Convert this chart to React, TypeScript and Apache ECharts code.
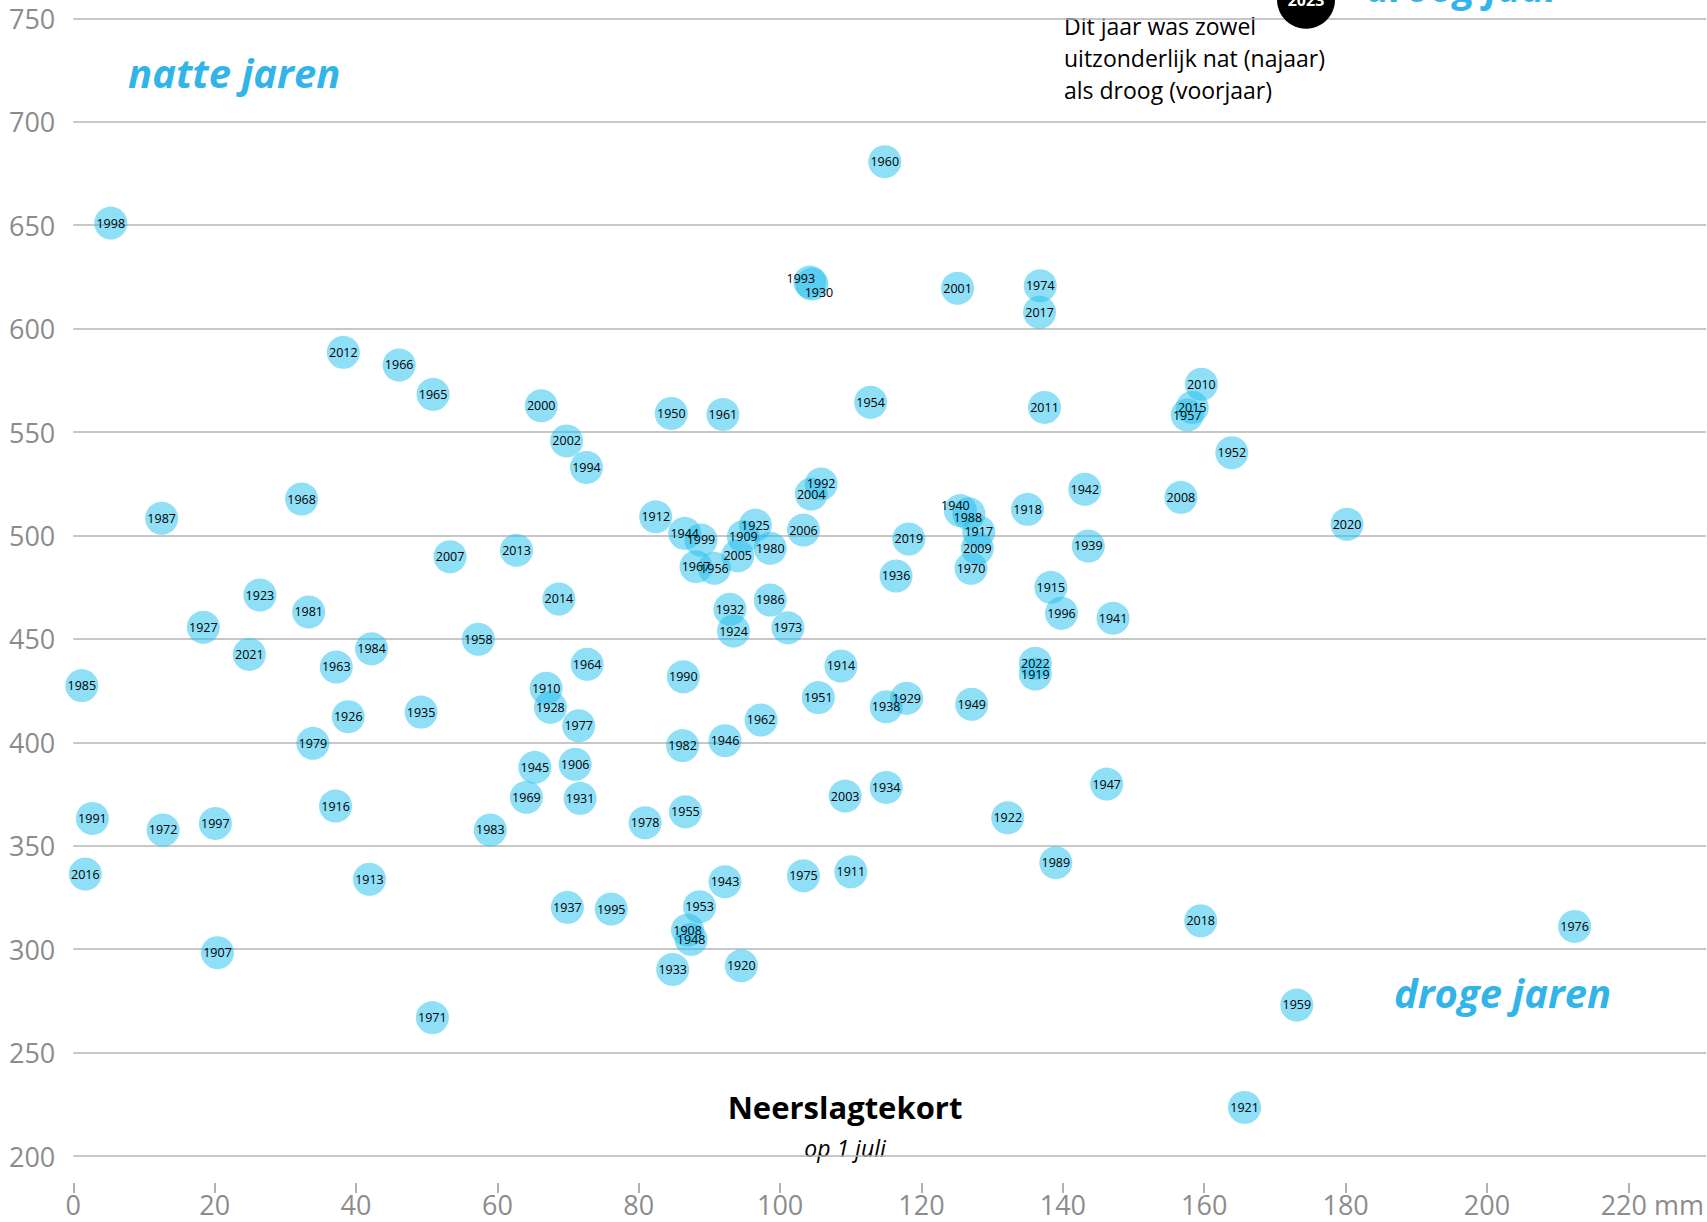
import React, { useEffect, useRef } from "react";
import * as echarts from "echarts";

// Neerslagtekort op 1 juli (mm) vs jaarlijkse neerslag (mm), per jaar
const years = [
  1998, 2012, 1966, 1965, 2000, 1950, 1961, 1993, 1930, 1960, 2001, 1974, 2017, 1954, 2011, 2010,
  2015, 1957, 1952, 1942, 2008, 1918, 1940, 1988, 1917, 2009, 1970, 2019, 1936, 1939, 1915, 1996,
  1941, 2022, 1919, 1929, 1938, 1949, 1914, 1934, 1947, 2003, 1922, 1989, 2018, 1921, 1911, 1976,
  1959, 2020, 1968, 1987, 1923, 1981, 1927, 2021, 1984, 1963, 1985, 1926, 1935, 1979, 1916, 2007,
  2013, 2014, 1958, 1964, 1910, 1928, 1977, 1945, 1906, 1969, 1931, 2002, 1994, 1912, 1944, 1999,
  1967, 1956, 2005, 1909, 1925, 1980, 2006, 1992, 2004, 1986, 1932, 1924, 1973, 1990, 1951, 1962,
  1946, 1982, 1955, 1978, 1983, 1943, 1975, 1937, 1995, 1953, 1908, 1948, 1933, 1920, 1971, 1991,
  1972, 1997, 2016, 1913, 1907,
];
const deficit = [
  5.3, 38.2, 46.1, 50.9, 66.2, 84.6, 91.9, 104.2, 104.5, 114.8, 125.1, 136.8, 136.7, 112.8, 137.4, 159.6,
  158.3, 157.6, 163.9, 143.1, 156.7, 135.0, 125.5, 126.7, 128.1, 127.9, 127.0, 118.2, 116.4, 143.6, 138.3, 139.8,
  147.1, 136.1, 136.1, 117.9, 115.0, 127.1, 108.6, 115.0, 146.2, 109.2, 132.2, 139.0, 159.5, 165.7, 110.0, 212.4,
  173.1, 180.2, 32.3, 12.5, 26.4, 33.3, 18.4, 24.9, 42.2, 37.2, 1.2, 38.9, 49.2, 33.9, 37.1, 53.3,
  62.7, 68.7, 57.3, 72.7, 66.9, 67.5, 71.5, 65.3, 71.0, 64.1, 71.7, 69.8, 72.6, 82.4, 86.5, 88.8,
  88.1, 90.7, 94.0, 94.8, 96.5, 98.6, 103.3, 105.8, 104.4, 98.6, 92.9, 93.4, 101.1, 86.3, 105.4, 97.3,
  92.2, 86.2, 86.6, 80.9, 59.0, 92.2, 103.3, 69.9, 76.1, 88.6, 86.9, 87.4, 84.8, 94.5, 50.8, 2.7,
  12.7, 20.1, 1.7, 41.9, 20.4,
];
const precipitation = [
  651, 588.5, 582.4, 568.2, 562.7, 559, 558.5, 622.5, 621.5, 680.7, 619.5, 620.7, 607.9, 564.4, 561.9, 573.1,
  561.9, 558.2, 540, 522.3, 518.4, 512.6, 512, 510.5, 501.8, 493.8, 484.1, 498.3, 480.4, 494.9, 474.9, 462.4,
  460, 438.2, 433, 421.3, 417.2, 418.4, 436.9, 378.2, 379.8, 374, 363.5, 341.8, 313.7, 223.5, 337.4, 311,
  273, 505.4, 517.6, 508.3, 471.2, 463, 455.6, 442.5, 445.2, 436.4, 427.4, 412.4, 414.6, 399.5, 369.2, 489.7,
  492.8, 469.3, 449.8, 437.7, 426.1, 416.9, 408, 387.9, 389.4, 373.4, 372.9, 545.7, 532.9, 509, 501, 497.8,
  484.9, 484.1, 490.2, 499.4, 505, 493.8, 502.6, 524.9, 520, 468.8, 464.3, 453.8, 455.4, 431.7, 421.6, 410.8,
  400.8, 398.4, 366.4, 361.1, 357.6, 332.6, 335.5, 320.2, 319.4, 320.5, 309.2, 304.7, 290.2, 292, 266.9, 363.2,
  357.6, 360.8, 336.3, 333.8, 298.3,
];

// Het jaar 2023 (buiten de bovenrand)
const highlightYear = 2023;
const highlightDeficit = 174.4;
const highlightPrecipitation = 759;

const xTicks = [0, 20, 40, 60, 80, 100, 120, 140, 160, 180, 200, 220];
const yMin = 200;
const yMax = 750;
const yStep = 50;

const labelShift: Record<number, [number, number]> = {
  1993: [-9, -4],
  1930: [7, 8],
  1940: [-5, -5],
  1988: [-1, 4],
};

const BLUE_TEXT = "#33b4e8";
const FONT = "'Open Sans', 'Noto Sans', sans-serif";

export default function App() {
  const ref = useRef<HTMLDivElement>(null);

  useEffect(() => {
    if (!ref.current) return;
    const chart = echarts.init(ref.current, null, { renderer: "svg" });

    const points = years.map((y, i) => ({
      value: [deficit[i], precipitation[i], y],
      label: labelShift[y] ? { offset: labelShift[y] } : undefined,
    }));

    chart.setOption({
      animation: false,
      backgroundColor: "#ffffff",
      grid: { left: 73.3, right: 0, top: 18.3, bottom: 66 },
      xAxis: {
        type: "value",
        min: 0,
        max: 231,
        interval: 20,
        offset: 27,
        axisLine: { show: false },
        splitLine: { show: false },
        axisTick: {
          show: true,
          length: 10,
          customValues: xTicks,
          lineStyle: { color: "#9a9a9a", width: 1.5 },
        },
        axisLabel: {
          customValues: xTicks,
          fontFamily: FONT,
          fontSize: 27,
          color: "#8c8c8c",
          margin: 8,
          formatter: (v: number) => (v === 220 ? "{pad|}220 mm" : String(v)),
          rich: { pad: { width: 48 } },
        },
      },
      yAxis: {
        type: "value",
        min: yMin,
        max: yMax,
        interval: yStep,
        axisLine: { show: false },
        axisTick: { show: false },
        splitLine: { show: true, lineStyle: { color: "#b4b4b4", width: 1.5 } },
        axisLabel: {
          fontFamily: FONT,
          fontSize: 27,
          color: "#8c8c8c",
          margin: 18,
        },
      },
      series: [
        {
          type: "scatter",
          symbol: "circle",
          symbolSize: 33,
          clip: false,
          itemStyle: { color: "rgba(35,193,237,0.51)", opacity: 1 },
          label: {
            show: true,
            position: "inside",
            formatter: (p: any) => String(p.value[2]),
            fontFamily: FONT,
            fontSize: 12.5,
            color: "#000000",
          },
          data: points,
          z: 3,
        },
        {
          type: "scatter",
          symbol: "circle",
          symbolSize: 58,
          clip: false,
          itemStyle: { color: "#000000", opacity: 1 },
          label: {
            show: true,
            position: "inside",
            formatter: (p: any) => String(p.value[2]),
            fontFamily: FONT,
            fontSize: 16,
            fontWeight: "bold",
            color: "#ffffff",
          },
          data: [{ value: [highlightDeficit, highlightPrecipitation, highlightYear] }],
          z: 4,
        },
      ],
      graphic: [
        {
          type: "text",
          left: 128,
          top: 52,
          style: {
            text: "natte jaren",
            fontFamily: FONT,
            fontSize: 40,
            fontWeight: "bold",
            fontStyle: "italic",
            fill: BLUE_TEXT,
          },
        },
        {
          type: "text",
          left: 1394,
          top: 972,
          style: {
            text: "droge jaren",
            fontFamily: FONT,
            fontSize: 40,
            fontWeight: "bold",
            fontStyle: "italic",
            fill: BLUE_TEXT,
          },
        },
        {
          type: "text",
          left: 1366,
          top: -34,
          style: {
            text: "droog jaar",
            fontFamily: FONT,
            fontSize: 40,
            fontWeight: "bold",
            fontStyle: "italic",
            fill: BLUE_TEXT,
          },
        },
        {
          type: "text",
          left: 1064,
          top: 10,
          style: {
            text: "Dit jaar was zowel\nuitzonderlijk nat (najaar)\nals droog (voorjaar)",
            fontFamily: FONT,
            fontSize: 23,
            lineHeight: 32,
            fill: "#000000",
          },
        },
        {
          type: "text",
          x: 845,
          y: 1107,
          style: {
            text: "Neerslagtekort",
            fontFamily: FONT,
            fontSize: 31,
            fontWeight: "bold",
            fill: "#000000",
            align: "center",
            verticalAlign: "middle",
          },
        },
        {
          type: "text",
          x: 845,
          y: 1148,
          style: {
            text: "op 1 juli",
            fontFamily: FONT,
            fontSize: 23,
            fontStyle: "italic",
            fill: "#000000",
            align: "center",
            verticalAlign: "middle",
          },
        },
      ],
    });

    return () => chart.dispose();
  }, []);

  return (
    <div
      ref={ref}
      style={{ position: "fixed", left: 0, top: 0, width: 1707, height: 1222 }}
    />
  );
}
